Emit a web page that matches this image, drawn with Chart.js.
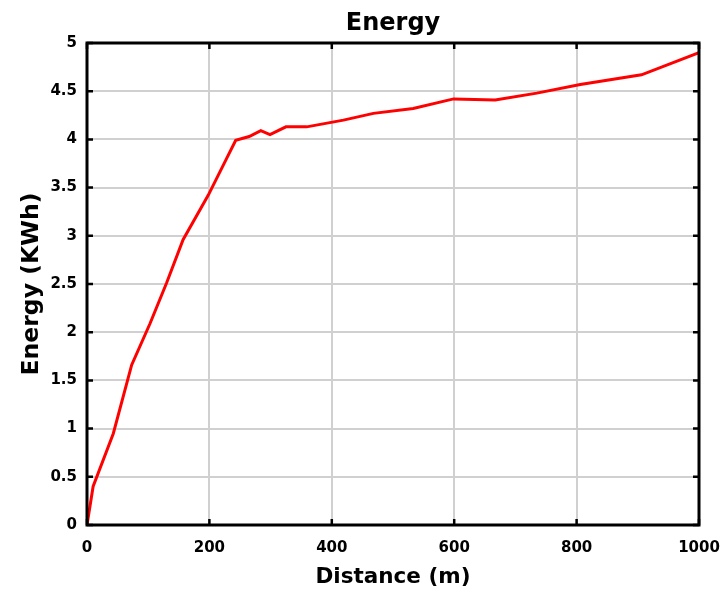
<!DOCTYPE html>
<html>
<head>
<meta charset="utf-8">
<title>Energy</title>
<script src="https://cdn.jsdelivr.net/npm/chart.js@4.4.1/dist/chart.umd.min.js"></script>
<style>
  html, body { margin: 0; padding: 0; background: #fff; }
  #wrap { position: relative; width: 724px; height: 593px; }
</style>
</head>
<body>
<div id="wrap"><canvas id="energyChart"></canvas></div>
<script>
// energy use against distance travelled
var distance = [0, 10, 43, 73, 103, 130, 157, 198, 228, 243, 265, 284, 299, 325, 359, 419, 468, 533, 599, 667, 735, 806, 906, 1000];
var energy   = [0, 0.40, 0.95, 1.66, 2.09, 2.51, 2.96, 3.42, 3.80, 3.99, 4.03, 4.09, 4.05, 4.13, 4.13, 4.20, 4.27, 4.32, 4.42, 4.41, 4.48, 4.57, 4.67, 4.90];

var xTicks = [0, 200, 400, 600, 800, 1000];
var yTicks = [0, 0.5, 1, 1.5, 2, 2.5, 3, 3.5, 4, 4.5, 5];

var tickFont = { family: "DejaVu Sans", size: 15, weight: "bold" };

// box round the plot with small inward tick marks on all four sides
var boxAxes = {
    id: "boxAxes",
    afterDatasetsDraw: function (chart) {
        var a = chart.chartArea;
        var ctx = chart.ctx;
        var xs = chart.scales.x, ys = chart.scales.y;
        var len = 6;
        ctx.save();
        ctx.strokeStyle = "#000";
        ctx.lineWidth = 2.5;
        ctx.beginPath();
        xTicks.forEach(function (v) {
            var px = xs.getPixelForValue(v);
            ctx.moveTo(px, a.bottom); ctx.lineTo(px, a.bottom - len);
            ctx.moveTo(px, a.top); ctx.lineTo(px, a.top + len);
        });
        yTicks.forEach(function (v) {
            var py = ys.getPixelForValue(v);
            ctx.moveTo(a.left, py); ctx.lineTo(a.left + len, py);
            ctx.moveTo(a.right, py); ctx.lineTo(a.right - len, py);
        });
        ctx.stroke();
        ctx.lineWidth = 3;
        ctx.strokeRect(a.left, a.top, a.right - a.left, a.bottom - a.top);
        ctx.restore();
    }
};

// title centred over the plot area rather than the whole canvas
var plotTitle = {
    id: "plotTitle",
    afterDraw: function (chart) {
        var a = chart.chartArea;
        var ctx = chart.ctx;
        ctx.save();
        ctx.font = "bold 24px 'DejaVu Sans'";
        ctx.fillStyle = "#000";
        ctx.textAlign = "center";
        ctx.textBaseline = "alphabetic";
        ctx.fillText("Energy", (a.left + a.right) / 2, 30);
        ctx.restore();
    }
};

var ctx = document.getElementById("energyChart").getContext("2d");
var energyChart = new Chart(ctx, {
    type: "line",
    data: {
        datasets: [{
            label: "Energy",
            data: distance.map(function (d, i) { return { x: d, y: energy[i] }; }),
            borderColor: "#ff0000",
            borderWidth: 3,
            pointRadius: 0,
            fill: false,
            tension: 0
        }]
    },
    options: {
        responsive: true,
        maintainAspectRatio: false,
        animation: false,
        layout: { padding: { top: 43, right: 25, bottom: 0, left: 0 } },
        plugins: {
            legend: { display: false },
            tooltip: { enabled: false }
        },
        scales: {
            x: {
                type: "linear",
                min: 0,
                max: 1000,
                afterBuildTicks: function (s) { s.ticks = xTicks.map(function (v) { return { value: v }; }); },
                afterFit: function (s) {
                    s.height = 68;
                    s.paddingLeft = 0;
                    s.paddingRight = 0;
                },
                ticks: {
                    padding: 14,
                    color: "#000",
                    font: tickFont,
                    maxRotation: 0,
                    callback: function (v) { return String(v); }
                },
                grid: { color: "#d0d0d0", lineWidth: 2, drawTicks: false },
                border: { display: false },
                title: {
                    display: true,
                    text: "Distance (m)",
                    color: "#000",
                    font: { family: "DejaVu Sans", size: 21.5, weight: "bold" },
                    padding: { top: 0, bottom: 3 }
                }
            },
            y: {
                type: "linear",
                min: 0,
                max: 5,
                afterBuildTicks: function (s) { s.ticks = yTicks.map(function (v) { return { value: v }; }); },
                afterFit: function (s) {
                    s.width = 87;
                    s.paddingTop = 0;
                    s.paddingBottom = 0;
                },
                ticks: {
                    padding: 10,
                    color: "#000",
                    font: tickFont,
                    callback: function (v) { return String(v); }
                },
                grid: { color: "#d0d0d0", lineWidth: 2, drawTicks: false },
                border: { display: false },
                title: {
                    display: true,
                    text: "Energy (KWh)",
                    color: "#000",
                    font: { family: "DejaVu Sans", size: 23.5, weight: "bold" },
                    padding: { top: 18, bottom: 0 }
                }
            }
        }
    },
    plugins: [boxAxes, plotTitle]
});
</script>
</body>
</html>
